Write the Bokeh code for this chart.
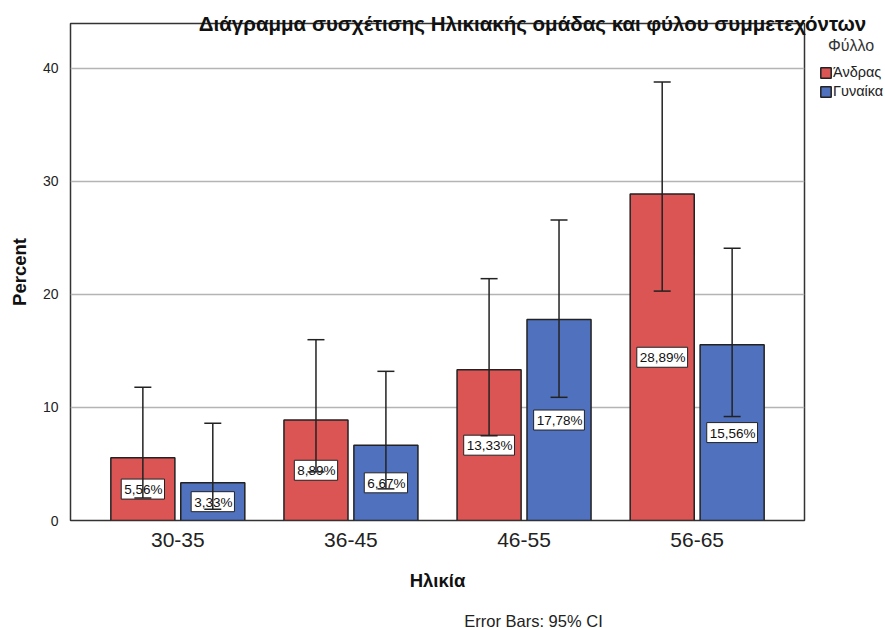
from bokeh.plotting import figure
from bokeh.models import (ColumnDataSource, FactorRange, Whisker, Label,
                          Legend, LegendItem, FixedTicker)
from bokeh.core.properties import value
from bokeh.transform import dodge
from bokeh.embed import file_html
from bokeh.resources import INLINE

ages = ["30-35", "36-45", "46-55", "56-65"]
male = [5.56, 8.89, 13.33, 28.89]
female = [3.33, 6.67, 17.78, 15.56]
male_lo = [2.0, 4.3, 7.5, 20.3]
male_hi = [11.8, 16.0, 21.4, 38.8]
female_lo = [1.0, 2.8, 10.9, 9.2]
female_hi = [8.6, 13.2, 26.6, 24.1]
male_txt = ["5,56%", "8,89%", "13,33%", "28,89%"]
female_txt = ["3,33%", "6,67%", "17,78%", "15,56%"]

RED = "#DB5555"
BLUE = "#5072BE"
FONT = "Liberation Sans"

src_m = ColumnDataSource(dict(age=ages, val=male, lo=male_lo, hi=male_hi, txt=male_txt,
                              mid=[v / 2 for v in male]))
src_f = ColumnDataSource(dict(age=ages, val=female, lo=female_lo, hi=female_hi, txt=female_txt,
                              mid=[v / 2 for v in female]))

# frame 734x497 + borders -> 885x628 page
p = figure(frame_width=734, frame_height=497,
           x_range=FactorRange(*ages, range_padding=0.06),
           y_range=(0, 43.98), output_backend="svg", toolbar_location=None,
           min_border_left=70, min_border_right=81, min_border_top=18, min_border_bottom=108)

off = 0.202
w = 0.37
rm = p.vbar(x=dodge("age", -off, range=p.x_range), top="val", width=w, source=src_m,
            fill_color=RED, line_color="#222222", line_width=1.5)
rf = p.vbar(x=dodge("age", off, range=p.x_range), top="val", width=w, source=src_f,
            fill_color=BLUE, line_color="#222222", line_width=1.5)

for src, o in ((src_m, -off), (src_f, off)):
    p.text(x=dodge("age", o, range=p.x_range), y="mid", text="txt", source=src,
           text_align="center", text_baseline="middle", text_font=value(FONT),
           text_font_size="13.5px", text_color="#111111",
           background_fill_color="white", border_line_color="#222222",
           border_line_width=1, padding=(3, 2, 3, 2))

for src, o in ((src_m, -off), (src_f, off)):
    wh = Whisker(base=dodge("age", o, range=p.x_range), lower="lo", upper="hi", source=src,
                 line_color="#222222", line_width=1.5, level="annotation")
    wh.upper_head.size = 17
    wh.lower_head.size = 17
    wh.upper_head.line_width = 1.5
    wh.lower_head.line_width = 1.5
    wh.upper_head.line_color = "#222222"
    wh.lower_head.line_color = "#222222"
    p.add_layout(wh)

legend = Legend(items=[LegendItem(label="Άνδρας", renderers=[rm]),
                       LegendItem(label="Γυναίκα", renderers=[rf])],
                location=(15, 421), title="\u00a0\u00a0Φύλλο", title_text_font=FONT,
                title_text_font_style="normal", title_text_font_size="16px",
                title_text_color="#333333", title_standoff=9,
                label_text_font=FONT, label_text_font_size="14.5px", label_text_color="#222222",
                glyph_width=13, glyph_height=13, label_standoff=1, spacing=3,
                padding=0, margin=0, border_line_color=None, background_fill_alpha=0,
                label_height=13)
p.add_layout(legend, "right")

title = Label(x=462, y=0, x_units="screen", y_units="screen",
              text="Διάγραμμα συσχέτισης Ηλικιακής ομάδας και φύλου συμμετεχόντων",
              text_align="center", text_baseline="middle", text_font=FONT,
              text_font_style="bold", text_font_size="20.5px", text_color="#111111")
p.add_layout(title, "above")

note = Label(x=463, y=-9, x_units="screen", y_units="screen",
             text="Error Bars: 95% CI", text_align="center", text_baseline="middle",
             text_font=FONT, text_font_size="16.5px", text_color="#222222")
p.add_layout(note, "below")

p.yaxis.ticker = FixedTicker(ticks=[0, 10, 20, 30, 40])
p.yaxis.axis_label = "Percent"
p.yaxis.axis_label_text_font = FONT
p.yaxis.axis_label_text_font_style = "bold"
p.yaxis.axis_label_text_font_size = "18.5px"
p.yaxis.axis_label_text_color = "#111111"
p.yaxis.axis_label_standoff = 10
p.yaxis.major_label_text_font = FONT
p.yaxis.major_label_text_font_size = "14px"
p.yaxis.major_label_text_color = "#222222"
p.yaxis.major_label_standoff = 6
p.yaxis.major_tick_line_color = None
p.yaxis.minor_tick_line_color = None
p.yaxis.axis_line_color = None

p.xaxis.axis_label = "Ηλικία"
p.xaxis.axis_label_text_font = FONT
p.xaxis.axis_label_text_font_style = "bold"
p.xaxis.axis_label_text_font_size = "18.5px"
p.xaxis.axis_label_text_color = "#111111"
p.xaxis.axis_label_standoff = 20
p.xaxis.major_label_text_font = FONT
p.xaxis.major_label_text_font_size = "21px"
p.xaxis.major_label_text_color = "#222222"
p.xaxis.major_label_standoff = 6
p.xaxis.major_tick_line_color = None
p.xaxis.axis_line_color = None

p.xgrid.grid_line_color = None
p.ygrid.grid_line_color = "#b4b4b4"
p.ygrid.grid_line_width = 1.5
p.outline_line_color = "#333333"
p.outline_line_width = 1.5
p.outline_line_alpha = 1

with open("out.html", "w") as f:
    f.write(file_html(p, INLINE))
